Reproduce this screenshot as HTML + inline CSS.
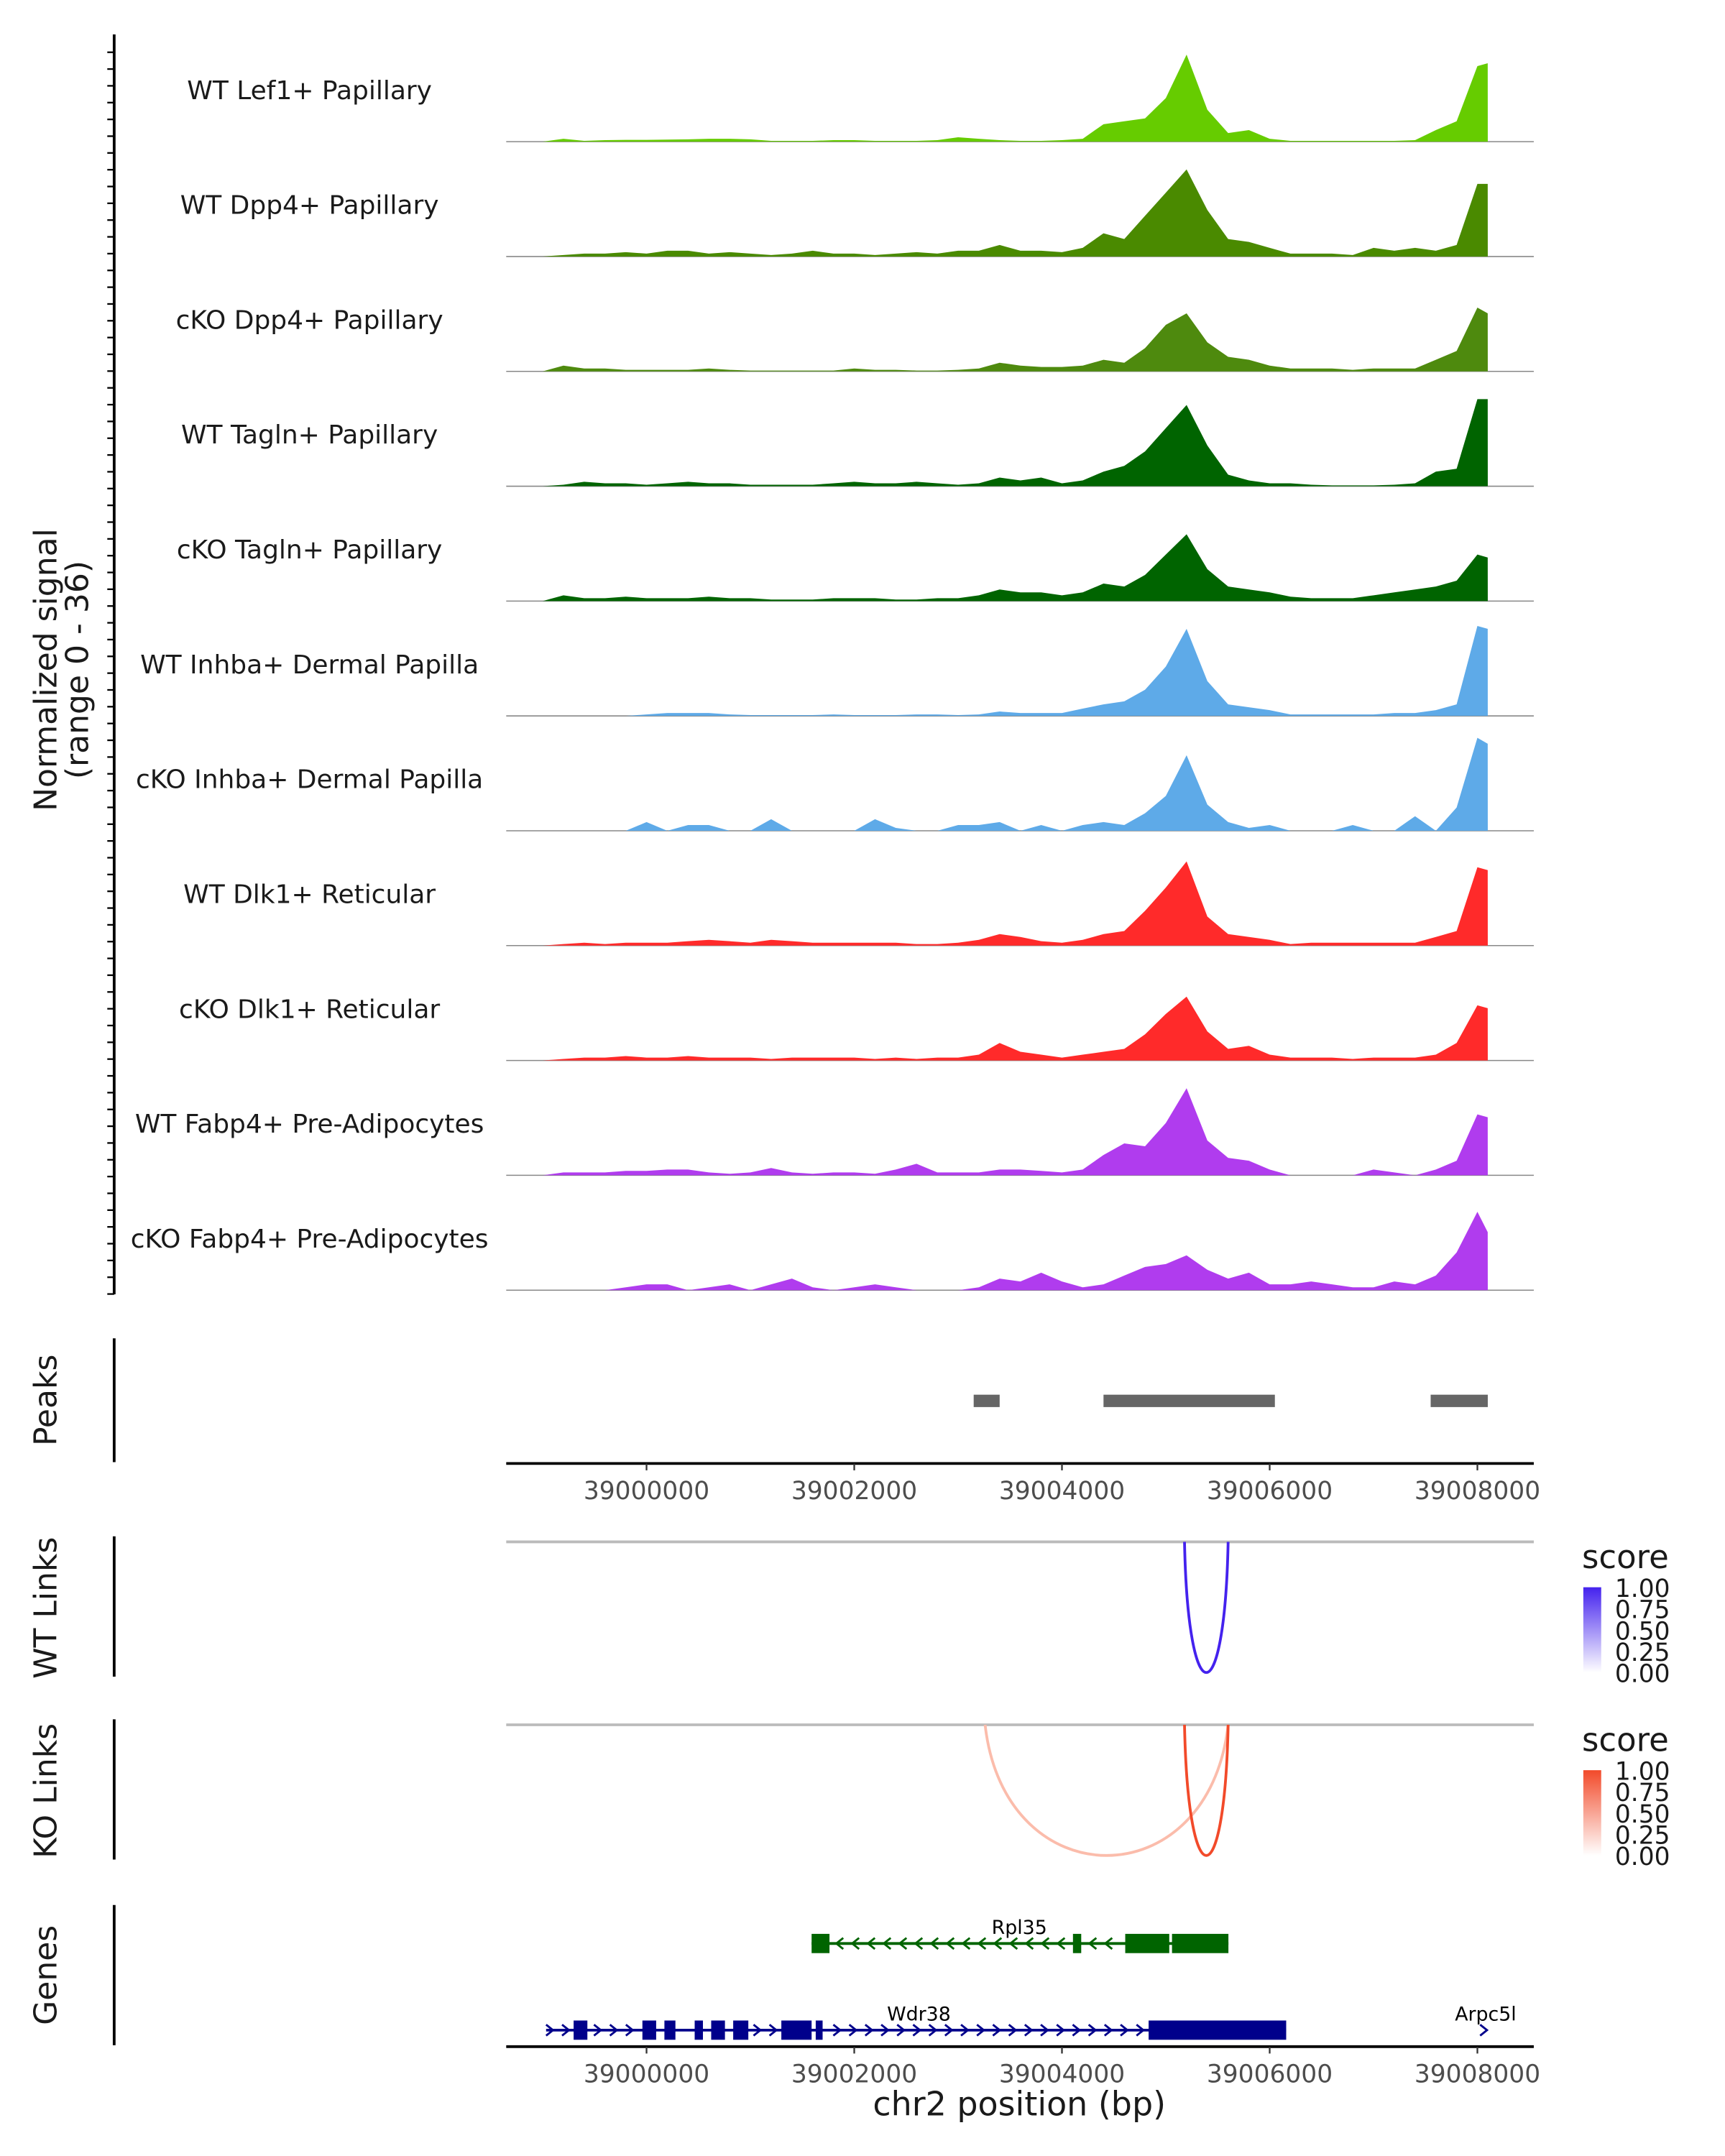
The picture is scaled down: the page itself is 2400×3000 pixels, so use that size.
<!DOCTYPE html>
<html><head><meta charset="utf-8"><style>
html,body{margin:0;padding:0;background:#fff}
svg{display:block;font-family:"DejaVu Sans","Liberation Sans",sans-serif}
</style></head><body>
<svg id="c" width="2400" height="3000" viewBox="0 0 1254 1567.5" xmlns="http://www.w3.org/2000/svg">
<rect width="1254" height="1567.5" fill="#fff"/>
<g id="tracks"></g>
<g id="axes"></g>
</svg>
<script>
const positions = [-1000,-800,-600,-400,-200,0,200,400,600,800,1000,1200,1400,1600,1800,2000,2200,2400,2600,2800,3000,3200,3400,3600,3800,4000,4200,4400,4600,4800,5000,5200,5400,5600,5800,6000,6200,6400,6600,6800,7000,7200,7400,7600,7800,8000,8100];
const trackNames = ["WT Lef1+ Papillary","WT Dpp4+ Papillary","cKO Dpp4+ Papillary","WT Tagln+ Papillary","cKO Tagln+ Papillary","WT Inhba+ Dermal Papilla","cKO Inhba+ Dermal Papilla","WT Dlk1+ Reticular","cKO Dlk1+ Reticular","WT Fabp4+ Pre-Adipocytes","cKO Fabp4+ Pre-Adipocytes"];
const trackColors = ["#66cc00","#4a8a00","#4e8a0e","#006400","#006400","#5eaae8","#5eaae8","#ff2a2a","#ff2a2a","#b03cee","#b03cee"];
const sLef1 = [0,1,0.3,0.5,0.6, 0.6,0.7,0.8,1,1, 0.8,0.3,0.3,0.3,0.5, 0.5,0.3,0.3,0.3,0.5, 1.5,1,0.5,0.3,0.3, 0.5,1,6,7,8, 15,30,11,3,4, 1,0.3,0.3,0.3,0.3, 0.3,0.3,0.5,4,7, 26,27];
const sDpp4WT = [0,0.5,1,1,1.5, 1,2,2,1,1.5, 1,0.5,1,2,1, 1,0.5,1,1.5,1, 2,2,4,2,2, 1.5,3,8,6,14, 22,30,16,6,5, 3,1,1,1,0.5, 3,2,3,2,4, 25,25];
const sDpp4KO = [0,2,1,1,0.5, 0.5,0.5,0.5,1,0.5, 0.3,0.3,0.3,0.3,0.3, 1,0.5,0.5,0.3,0.3, 0.5,1,3,2,1.5, 1.5,2,4,3,8, 16,20,10,5,4, 2,1,1,1,0.5, 1,1,1,4,7, 22,20];
const sTaglnWT = [0,0.5,1.5,1,1, 0.5,1,1.5,1,1, 0.5,0.5,0.5,0.5,1, 1.5,1,1,1.5,1, 0.5,1,3,2,3, 1,2,5,7,12, 20,28,14,4,2, 1,1,0.5,0.3,0.3, 0.3,0.5,1,5,6, 30,30];
const sTaglnKO = [0,2,1,1,1.5, 1,1,1,1.5,1, 1,0.5,0.5,0.5,1, 1,1,0.5,0.5,1, 1,2,4,3,3, 2,3,6,5,9, 16,23,11,5,4, 3,1.5,1,1,1, 2,3,4,5,7, 16,15];
const sInhbaWT = [0,0,0,0,0, 0.5,1,1,1,0.5, 0.3,0.3,0.3,0.3,0.5, 0.3,0.3,0.3,0.5,0.5, 0.3,0.5,1.5,1,1, 1,2.5,4,5,9, 17,30,12,4,3, 2,0.5,0.5,0.5,0.5, 0.5,1,1,2,4, 31,30];
const sInhbaKO = [0,0,0,0,0, 3,0,2,2,0, 0,4,0,0,0, 0,4,1,0,0, 2,2,3,0,2, 0,2,3,2,6, 12,26,9,3,1, 2,0,0,0,2, 0,0,5,0,8, 32,30];
const sDlk1WT = [0,0.5,1,0.5,1, 1,1,1.5,2,1.5, 1,2,1.5,1,1, 1,1,1,0.5,0.5, 1,2,4,3,1.5, 1,2,4,5,12, 20,29,10,4,3, 2,0.5,1,1,1, 1,1,1,3,5, 27,26];
const sDlk1KO = [0,0.5,1,1,1.5, 1,1,1.5,1,1, 1,0.5,1,1,1, 1,0.5,1,0.5,1, 1,2,6,3,2, 1,2,3,4,9, 16,22,10,4,5, 2,1,1,1,0.5, 1,1,1,2,6, 19,18];
const sFabp4WT = [0,1,1,1,1.5, 1.5,2,2,1,0.5, 1,2.5,1,0.5,1, 1,0.5,2,4,1, 1,1,2,2,1.5, 1,2,7,11,10, 18,30,12,6,5, 2,0,0,0,0, 2,1,0,2,5, 21,20];
const sFabp4KO = [0,0,0,0,1, 2,2,0,1,2, 0,2,4,1,0, 1,2,1,0,0, 0,1,4,3,6, 3,1,2,5,8, 9,12,7,4,6, 2,2,3,2,1, 1,3,2,5,13, 27,20];
const signals = [sLef1,sDpp4WT,sDpp4KO,sTaglnWT,sTaglnKO,sInhbaWT,sInhbaKO,sDlk1WT,sDlk1KO,sFabp4WT,sFabp4KO];
const peakStarts = [3150,4400,7550];
const peakEnds = [3400,6050,8100];
const xTicks = [0,2000,4000,6000,8000];
const xTickLabels = ["39000000","39002000","39004000","39006000","39008000"];
const wtLinkStart = [5180]; const wtLinkEnd = [5600]; const wtLinkScore = [0.85];
const koLinkStart = [3260,5180]; const koLinkEnd = [5600,5600]; const koLinkScore = [0.3,0.85];
const legendTicks = ["1.00","0.75","0.50","0.25","0.00"];

const NS="http://www.w3.org/2000/svg";
const svg=document.getElementById('c');
function mk(tag,attrs,parent,text){const e=document.createElementNS(NS,tag);for(const k in attrs)e.setAttribute(k,attrs[k]);if(text!==undefined)e.textContent=text;(parent||svg).appendChild(e);return e;}
const X0=368,X1=1115;
const xs=bp=>470+bp*0.0755;
const ymax=36, trackH=83.5, base0=103;
const yv=(v,b)=>b-v/ymax*76;

signals.forEach((s,t)=>{
  const b=base0+t*trackH;
  const g=mk('g',{});
  
  
  mk('line',{x1:X0,x2:X1,y1:b,y2:b,stroke:'#888','stroke-width':0.8},g);
  let d='M'+xs(positions[0])+','+b;
  s.forEach((v,i)=>{d+=' L'+xs(positions[i]).toFixed(1)+','+yv(v,b).toFixed(1);});
  d+=' L'+xs(positions[positions.length-1])+','+b+' Z';
  const p=mk('path',{d:d,fill:trackColors[t]},g);
  
  
  const tx=mk('text',{x:225,y:b-31,'font-size':18.8,'text-anchor':'middle',fill:'#1a1a1a'},g,trackNames[t]);
  
  
});

const ax=document.getElementById('axes');
mk('line',{x1:83,x2:83,y1:25,y2:941,stroke:'#000','stroke-width':2},ax);
for(let y=38;y<=941;y+=12.2){mk('line',{x1:78,x2:83,y1:y,y2:y,stroke:'#000','stroke-width':1.2},ax);}
const yt=mk('text',{transform:'translate(41,487) rotate(-90)','font-size':23,'text-anchor':'middle',fill:'#1a1a1a'},ax);


mk('tspan',{x:0,dy:0},yt,'Normalized signal');
mk('tspan',{x:0,dy:23},yt,'(range 0 - 36)');

mk('line',{x1:83,x2:83,y1:973,y2:1063,stroke:'#000','stroke-width':2},ax);
mk('text',{transform:'translate(41,1018) rotate(-90)','font-size':23,'text-anchor':'middle',fill:'#1a1a1a'},ax,'Peaks');
peakStarts.forEach((s,i)=>{const r=mk('rect',{x:xs(s),y:1014,width:xs(peakEnds[i])-xs(s),height:9,fill:'#666'},ax);

});
function xAxis(y){mk('line',{x1:X0,x2:X1,y1:y,y2:y,stroke:'#000','stroke-width':2},ax);
xTicks.forEach((t,i)=>{mk('line',{x1:xs(t),x2:xs(t),y1:y,y2:y+5,stroke:'#333','stroke-width':1.2},ax);
mk('text',{x:xs(t),y:y+26,'font-size':18,'text-anchor':'middle',fill:'#4d4d4d'},ax,xTickLabels[i]);});}
xAxis(1064);

function links(top,name,starts,ends,scores,col,light){
  mk('line',{x1:83,x2:83,y1:top-4,y2:top+98,stroke:'#000','stroke-width':2},ax);
  mk('text',{transform:'translate(41,'+(top+48)+') rotate(-90)','font-size':23,'text-anchor':'middle',fill:'#1a1a1a'},ax,name);
  mk('line',{x1:X0,x2:X1,y1:top,y2:top,stroke:'#bbb','stroke-width':2},ax);
  starts.forEach((s,i)=>{const a=xs(s),b=xs(ends[i]);const dep=95*4/3;
    const c=scores[i]>0.5?col:light;
    const p=mk('path',{d:`M${a},${top} C${a+(b-a)*0.08},${top+dep} ${b-(b-a)*0.08},${top+dep} ${b},${top}`,fill:'none',stroke:c,'stroke-width':2},ax);
    
    });
  const ly=top+11;
  mk('text',{x:1150,y:ly+8,'font-size':23.5,fill:'#1a1a1a'},ax,'score');
  const gid='g'+top;
  const gr=mk('linearGradient',{id:gid,x1:0,y1:1,x2:0,y2:0},ax);
  mk('stop',{offset:0,'stop-color':'#fff'},gr);mk('stop',{offset:1,'stop-color':col},gr);
  mk('rect',{x:1151,y:ly+22,width:13,height:62,fill:'url(#'+gid+')'},ax);
  legendTicks.forEach((l,i)=>{mk('text',{x:1174,y:ly+29+i*15.5,'font-size':18,fill:'#1a1a1a'},ax,l);});
}
links(1121,'WT Links',wtLinkStart,wtLinkEnd,wtLinkScore,'#4422ee','#c7bdfa');
links(1254,'KO Links',koLinkStart,koLinkEnd,koLinkScore,'#f24a2a','#fbbcab');

mk('line',{x1:83,x2:83,y1:1385,y2:1487,stroke:'#000','stroke-width':2},ax);
mk('text',{transform:'translate(41,1436) rotate(-90)','font-size':23,'text-anchor':'middle',fill:'#1a1a1a'},ax,'Genes');
function chev(x,y,dir,col){mk('polyline',{points:`${x-3*dir},${y-4} ${x+2*dir},${y} ${x-3*dir},${y+4}`,fill:'none',stroke:col,'stroke-width':1.5},ax);}
mk('line',{x1:590,x2:893,y1:1413,y2:1413,stroke:'#006400','stroke-width':2},ax);
[[590,603],[780,786],[818,850],[852,893]].forEach(r=>mk('rect',{x:r[0],y:1406,width:r[1]-r[0],height:14,fill:'#006400'},ax));
for(let x=610;x<=812;x+=11.5) if(x<778||x>789) chev(x,1413,-1,'#006400');
mk('text',{x:741,y:1406,'font-size':14,'text-anchor':'middle',fill:'#000'},ax,'Rpl35');
mk('line',{x1:397,x2:935,y1:1476,y2:1476,stroke:'#00008b','stroke-width':2},ax);
const wb=[[417,427],[467,477],[483,491],[505,511],[517,527],[533,544],[568,590],[593,598],[835,935]];
wb.forEach(r=>mk('rect',{x:r[0],y:1469,width:r[1]-r[0],height:14,fill:'#00008b'},ax));
for(let x=400;x<=830;x+=11.6){ if(!wb.some(r=>x>r[0]-3&&x<r[1]+3)) chev(x,1476,1,'#00008b');}
mk('text',{x:668,y:1469,'font-size':14,'text-anchor':'middle',fill:'#000'},ax,'Wdr38');
chev(1079,1476,1,'#00008b');
mk('text',{x:1080,y:1469,'font-size':14,'text-anchor':'middle',fill:'#000'},ax,'Arpc5l');
xAxis(1488);
const xt=mk('text',{x:741,y:1538,'font-size':24,'text-anchor':'middle',fill:'#1a1a1a'},ax,'chr2 position (bp)');


</script>
</body></html>
